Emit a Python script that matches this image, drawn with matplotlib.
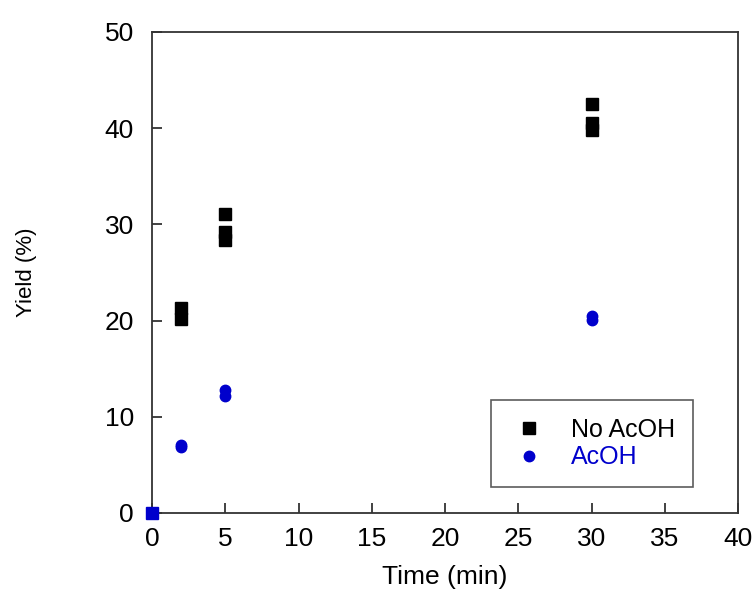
import matplotlib
matplotlib.use("Agg")
import matplotlib.pyplot as plt

plt.rcParams['font.family'] = ['Liberation Sans', 'DejaVu Sans']

# Data
noacoh_time = [2, 2, 5, 5, 5, 30, 30, 30]
noacoh_yield = [21.3, 20.2, 31.1, 29.2, 28.4, 42.5, 40.5, 39.8]
acoh_time = [2, 2, 5, 5, 30, 30]
acoh_yield = [7.1, 6.9, 12.8, 12.2, 20.5, 20.1]
origin_time = [0]
origin_yield = [0]

xticks = [0, 5, 10, 15, 20, 25, 30, 35, 40]
yticks = [0, 10, 20, 30, 40, 50]

fig = plt.figure(figsize=(7.55, 5.97), dpi=100)
ax = fig.add_axes([152/755, 1-513/597, (738-152)/755, (513-32)/597])

ax.plot(noacoh_time, noacoh_yield, linestyle='none', marker='s', markersize=8,
        color='black', label='No AcOH')
ax.plot(acoh_time, acoh_yield, linestyle='none', marker='o', markersize=7.5,
        color='#0000cc', label='AcOH')
ax.plot(origin_time, origin_yield, linestyle='none', marker='s', markersize=8,
        color='#0000cc', clip_on=False, zorder=5)

ax.set_xlim(0, 40)
ax.set_ylim(0, 50)
ax.set_xticks(xticks)
ax.set_yticks(yticks)

for s in ax.spines.values():
    s.set_color('#333333')
    s.set_linewidth(1.3)

ax.tick_params(axis='both', direction='in', length=7, width=1.3, color='#333333',
               labelsize=19, top=False, right=False)
ax.tick_params(axis='y', pad=13)
ax.tick_params(axis='x', pad=10)

ax.set_xlabel('Time (min)', fontsize=19)
ax.set_ylabel('Yield (%)', fontsize=16)
ax.xaxis.set_label_coords(0.5, (513-565)/481)
ax.yaxis.set_label_coords((37-152)/586, 0.5)

leg = ax.legend(loc='lower right', bbox_to_anchor=(693/755, 1-487/597),
                bbox_transform=fig.transFigure, fontsize=18, frameon=True,
                fancybox=False, edgecolor='#333333', borderpad=0.7,
                handletextpad=0.9, handlelength=1.6, labelspacing=0.15,
                borderaxespad=0)
leg.get_frame().set_linewidth(1.2)
for txt, col in zip(leg.get_texts(), ['black', '#0000cc']):
    txt.set_color(col)

fig.savefig('out.png', dpi=100)
